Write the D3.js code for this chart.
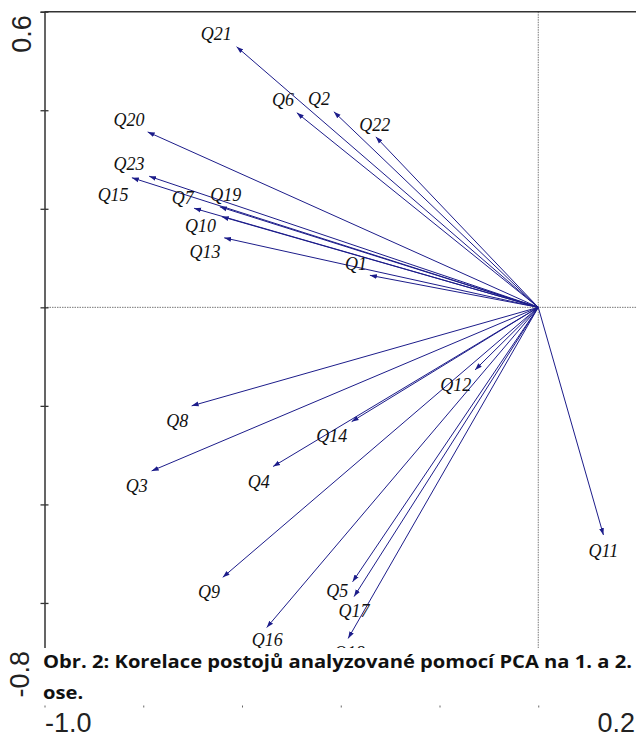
<!DOCTYPE html>
<html>
<head>
<meta charset="utf-8">
<script src="https://cdn.jsdelivr.net/npm/d3@7"></script>
<style>
  body { margin: 0; background: #fff; }
  svg { display: block; }
</style>
</head>
<body>
<svg id="plot-svg" width="636" height="735"></svg>
<script>
// variable loadings on axis 1 and 2 (arrow tips)
const names = ["Q1", "Q2", "Q3", "Q4", "Q5", "Q6", "Q7", "Q8", "Q9", "Q10", "Q11", "Q12",
               "Q13", "Q14", "Q15", "Q16", "Q17", "Q18", "Q19", "Q20", "Q21", "Q22", "Q23"];
const axis1 = [-0.341, -0.414, -0.783, -0.537, -0.376, -0.489, -0.697, -0.702, -0.639, -0.641, 0.132, -0.128,
               -0.636, -0.378, -0.823, -0.550, -0.373, -0.385, -0.645, -0.791, -0.611, -0.329, -0.788];
const axis2 = [0.065, 0.397, -0.332, -0.323, -0.557, 0.395, 0.201, -0.200, -0.548, 0.184, -0.462, -0.127,
               0.141, -0.232, 0.263, -0.650, -0.587, -0.672, 0.204, 0.356, 0.529, 0.346, 0.266];
// label anchor points, same units
const labelX = [-0.369, -0.444, -0.813, -0.566, -0.407, -0.517, -0.720, -0.731, -0.667, -0.684, 0.132, -0.167,
                -0.675, -0.418, -0.861, -0.549, -0.373, -0.383, -0.633, -0.829, -0.652, -0.331, -0.829];
const labelY = [0.076, 0.410, -0.374, -0.366, -0.587, 0.409, 0.210, -0.242, -0.590, 0.153, -0.506, -0.169,
                0.101, -0.273, 0.216, -0.687, -0.629, -0.714, 0.216, 0.368, 0.543, 0.358, 0.279];

const xTicks = [-1.0, -0.8, -0.6, -0.4, -0.2, 0.0, 0.2];
const yTicks = [0.6, 0.4, 0.2, 0.0, -0.2, -0.4, -0.6, -0.8];
const captionLines = ["Obr. 2: Korelace postojů analyzované pomocí PCA na 1. a 2.", "ose."];

const svg = d3.select("#plot-svg");

const x = d3.scaleLinear().domain([-1.0, 0.2]).range([44.5, 637]);
const y = d3.scaleLinear().domain([-0.8, 0.6]).range([701.5, 11.7]);

const arrowCol = "#1c1c8a";
const axisCol = "#333";

svg.append("defs").append("marker")
    .attr("id", "arrow")
    .attr("viewBox", "0 0 10 10")
    .attr("refX", 10).attr("refY", 5)
    .attr("markerWidth", 7).attr("markerHeight", 7)
    .attr("markerUnits", "userSpaceOnUse")
    .attr("orient", "auto")
    .append("path")
    .attr("d", "M0,1.5 L10,5 L0,8.5 Z")
    .attr("fill", arrowCol);

// zero lines
svg.append("line")
    .attr("x1", x(-1.0)).attr("x2", x(0.2))
    .attr("y1", y(0)).attr("y2", y(0))
    .attr("stroke", "#777").attr("stroke-width", 1)
    .attr("stroke-dasharray", "1.5,1");
svg.append("line")
    .attr("x1", x(0)).attr("x2", x(0))
    .attr("y1", y(0.6)).attr("y2", y(-0.8))
    .attr("stroke", "#777").attr("stroke-width", 1)
    .attr("stroke-dasharray", "1.5,1");

// bottom axis (mostly hidden under the caption)
const xAxis = d3.axisBottom(x).tickValues(xTicks).tickSize(6).tickFormat("");
const gx = svg.append("g")
    .attr("transform", "translate(0," + y(-0.8) + ")")
    .call(xAxis);
gx.select(".domain").remove();
gx.selectAll(".tick line").attr("stroke", "#666");

// arrows
const data = names.map((n, i) => ({name: n, a1: axis1[i], a2: axis2[i], lx: labelX[i], ly: labelY[i]}));

svg.append("g")
    .selectAll("line")
    .data(data)
    .enter()
    .append("line")
    .attr("x1", x(0)).attr("y1", y(0))
    .attr("x2", d => x(d.a1))
    .attr("y2", d => y(d.a2))
    .attr("stroke", arrowCol)
    .attr("stroke-width", 1)
    .attr("marker-end", "url(#arrow)");

svg.append("g")
    .selectAll("text")
    .data(data)
    .enter()
    .append("text")
    .attr("x", d => x(d.lx))
    .attr("y", d => y(d.ly))
    .attr("text-anchor", "middle")
    .style("font-family", "'Liberation Serif', 'Times New Roman', serif")
    .style("font-style", "italic")
    .style("font-size", "18px")
    .attr("fill", "#111")
    .text(d => d.name);

// left axis, ticks on both sides
const gyL = svg.append("g")
    .attr("transform", "translate(" + x(-1.0) + ",0)")
    .call(d3.axisLeft(y).tickValues(yTicks).tickSize(4).tickFormat(""));
const gyR = svg.append("g")
    .attr("transform", "translate(" + x(-1.0) + ",0)")
    .call(d3.axisRight(y).tickValues(yTicks).tickSize(4).tickFormat(""));
gyR.select(".domain").remove();
gyL.selectAll(".tick line").attr("stroke", axisCol).attr("stroke-width", 1.3);
gyR.selectAll(".tick line").attr("stroke", axisCol).attr("stroke-width", 1.3);
gyL.select(".domain").attr("stroke", axisCol).attr("stroke-width", 1.5);

// top frame line
svg.append("line")
    .attr("x1", x(-1.0)).attr("x2", x(0.2))
    .attr("y1", y(0.6)).attr("y2", y(0.6))
    .attr("stroke", axisCol).attr("stroke-width", 1.5);

// axis end labels
const tickFont = "'Liberation Sans', Arial, sans-serif";
svg.append("text")
    .attr("transform", "translate(31," + (y(0.6) + 41) + ") rotate(-90)")
    .attr("text-anchor", "start")
    .style("font-family", tickFont).style("font-size", "27px")
    .attr("fill", "#222")
    .text(yTicks[0].toFixed(1));

// caption block covering the bottom of the plot
svg.append("rect")
    .attr("x", 38).attr("y", 648)
    .attr("width", 598).attr("height", 57.5)
    .attr("fill", "#fff");

svg.append("text")
    .attr("transform", "translate(29," + (y(-0.8) - 4) + ") rotate(-90)")
    .attr("text-anchor", "start")
    .style("font-family", tickFont).style("font-size", "27px")
    .attr("fill", "#222")
    .text(yTicks[yTicks.length - 1].toFixed(1));

svg.append("text")
    .attr("x", x(-1.0) + 0.5).attr("y", 732)
    .attr("text-anchor", "start")
    .style("font-family", tickFont).style("font-size", "27px")
    .attr("fill", "#222")
    .text(xTicks[0].toFixed(1));
svg.append("text")
    .attr("x", 635).attr("y", 732)
    .attr("text-anchor", "end")
    .style("font-family", tickFont).style("font-size", "27px")
    .attr("fill", "#222")
    .text(xTicks[xTicks.length - 1].toFixed(1));

const cap = svg.selectAll(".caption")
    .data(captionLines)
    .enter()
    .append("text")
    .attr("class", "caption")
    .attr("x", 43)
    .attr("y", (d, i) => 668 + i * 31)
    .style("font-family", "'Open Sans', Lato, sans-serif")
    .style("font-weight", "bold")
    .style("font-size", "17.5px")
    .attr("fill", "#111")
    .text(d => d);

// stretch the caption to the width it has in the original figure
const firstLen = cap.nodes()[0].getComputedTextLength();
const stretch = 589 / firstLen;
cap.each(function () {
    const len = this.getComputedTextLength();
    d3.select(this)
        .attr("textLength", len * stretch)
        .attr("lengthAdjust", "spacingAndGlyphs");
});
</script>
</body>
</html>
